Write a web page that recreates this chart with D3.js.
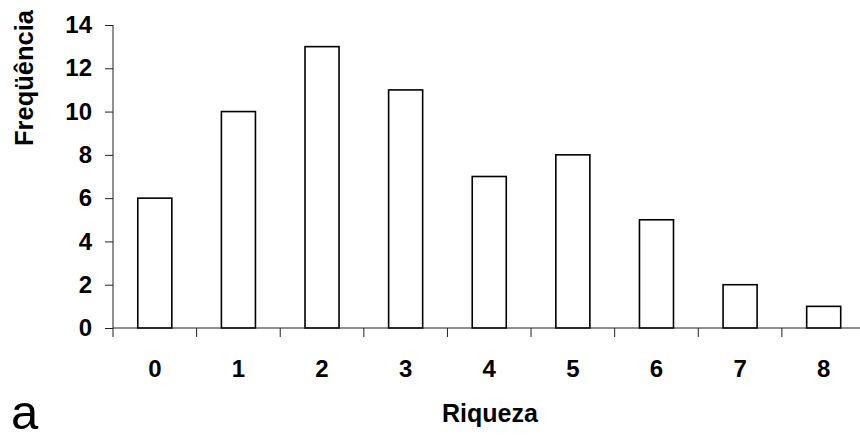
<!DOCTYPE html>
<html>
<head>
<meta charset="utf-8">
<script src="https://cdn.jsdelivr.net/npm/d3@7"></script>
<style>
  body { margin: 0; background: #fff; }
  svg { display: block; font-family: "Liberation Sans", Arial, sans-serif; }
</style>
</head>
<body>
<div id="chart"></div>
<script>
var categories = ["0", "1", "2", "3", "4", "5", "6", "7", "8"];
var values = [6, 10, 13, 11, 7, 8, 5, 2, 1];
var yTicks = [0, 2, 4, 6, 8, 10, 12, 14];

var width = 860;
var height = 436;

var plotLeft = 113;
var plotRight = 865.5;
var plotTop = 25;
var plotBottom = 328;

var svg = d3.select("#chart").append("svg")
	.attr("width", width)
	.attr("height", height);

var x = d3.scaleBand()
	.domain(categories)
	.range([plotLeft, plotRight])
	.paddingInner(0.593)
	.paddingOuter(0.593 / 2);

var y = d3.scaleLinear()
	.domain([0, 14])
	.range([plotBottom, plotTop]);

// bars
svg.selectAll("rect.bar")
	.data(values)
	.enter().append("rect")
	.attr("class", "bar")
	.attr("x", function(d, i) { return x(categories[i]); })
	.attr("y", function(d) { return y(d); })
	.attr("width", x.bandwidth())
	.attr("height", function(d) { return y(0) - y(d); })
	.attr("fill", "#fff")
	.attr("stroke", "#000")
	.attr("stroke-width", 1.6);

// y axis
var yAxis = d3.axisLeft(y).tickValues(yTicks).tickSize(8).tickPadding(13);
var gy = svg.append("g")
	.attr("transform", "translate(" + plotLeft + ",0)")
	.call(yAxis);
gy.select(".domain").attr("d", "M0," + plotTop + "V" + plotBottom).attr("stroke", "#222");
gy.selectAll(".tick line").attr("stroke", "#222");
gy.selectAll(".tick text")
	.style("font-size", "24px")
	.style("font-weight", "bold")
	.attr("fill", "#000");

// x axis: line plus tick marks on band boundaries
var step = x.step();
var boundaries = d3.range(categories.length + 1).map(function(i) { return plotLeft + i * step; });
var gx = svg.append("g");
gx.append("line")
	.attr("x1", plotLeft).attr("x2", plotRight)
	.attr("y1", y(0)).attr("y2", y(0))
	.attr("stroke", "#222");
gx.selectAll("line.tick")
	.data(boundaries)
	.enter().append("line")
	.attr("class", "tick")
	.attr("x1", function(d) { return d; })
	.attr("x2", function(d) { return d; })
	.attr("y1", y(0))
	.attr("y2", y(0) + 9)
	.attr("stroke", "#222");
gx.selectAll("text")
	.data(categories)
	.enter().append("text")
	.attr("x", function(d) { return x(d) + x.bandwidth() / 2; })
	.attr("y", 377)
	.attr("text-anchor", "middle")
	.style("font-size", "24px")
	.style("font-weight", "bold")
	.text(function(d) { return d; });

// axis titles
svg.append("text")
	.attr("transform", "translate(33,78) rotate(-90)")
	.attr("text-anchor", "middle")
	.style("font-size", "25.5px")
	.style("font-weight", "bold")
	.text("Freqüência");

svg.append("text")
	.attr("x", 490)
	.attr("y", 422)
	.attr("text-anchor", "middle")
	.style("font-size", "25px")
	.style("font-weight", "bold")
	.text("Riqueza");

svg.append("text")
	.attr("x", 11)
	.attr("y", 429)
	.style("font-size", "49px")
	.text("a");
</script>
</body>
</html>
